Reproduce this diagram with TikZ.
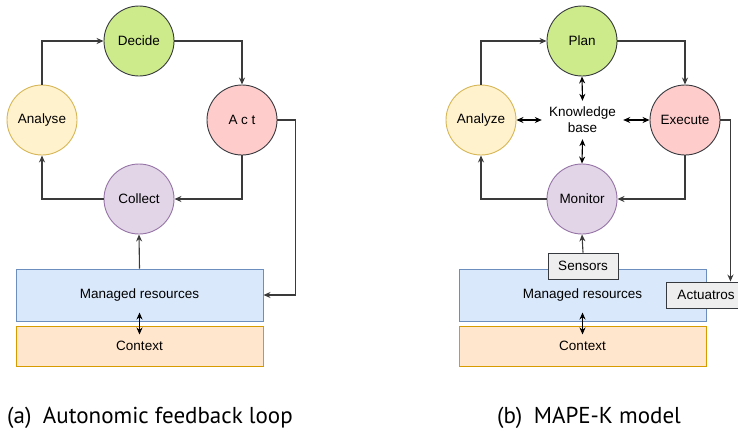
\documentclass[tikz,border=0pt]{standalone}
\usepackage{fontspec}
\setmainfont{Liberation Sans}
\newfontfamily\capfont{PT Sans}
\usepackage{tikz}
\usetikzlibrary{arrows.meta, positioning}
\definecolor{greenfill}{HTML}{CDEB8B}
\definecolor{yellowfill}{HTML}{FFF2CC}
\definecolor{yellowline}{HTML}{D6B656}
\definecolor{redfill}{HTML}{FFCCCC}
\definecolor{purplefill}{HTML}{E1D5E7}
\definecolor{purpleline}{HTML}{9673A6}
\definecolor{bluefill}{HTML}{DAE8FC}
\definecolor{blueline}{HTML}{6C8EBF}
\definecolor{orangefill}{HTML}{FFE6CC}
\definecolor{orangeline}{HTML}{D79B00}
\definecolor{grayfill}{HTML}{EEEEEE}
\definecolor{darkline}{HTML}{36393D}
\definecolor{edgegray}{HTML}{3A3A3A}
\tikzset{
  stage/.style={
    circle, minimum size=70pt, inner sep=0pt,
    draw, line width=0.9pt, font=\fontsize{13.5}{16}\selectfont
  },
  grnc/.style={stage, fill=greenfill,  draw=darkline},
  ylwc/.style={stage, fill=yellowfill, draw=yellowline},
  redc/.style={stage, fill=redfill,    draw=darkline},
  prpc/.style={stage, fill=purplefill, draw=purpleline},
  layer/.style={
    rectangle, minimum width=247pt, inner sep=0pt,
    draw, line width=1pt, font=\fontsize{13.5}{16}\selectfont
  },
  res/.style={layer, minimum height=52pt, fill=bluefill,   draw=blueline},
  ctx/.style={layer, minimum height=40pt, fill=orangefill, draw=orangeline},
  tag/.style={
    rectangle, minimum height=26pt, inner sep=0pt, fill=grayfill,
    draw=darkline, line width=0.9pt, font=\fontsize{13.5}{16}\selectfont
  },
  arr/.style={-{Stealth[length=7pt, width=6pt]}, line width=1.1pt, draw=edgegray},
  darr/.style={{Stealth[length=7pt, width=6pt]}-{Stealth[length=7pt, width=6pt]},
    line width=1.1pt, draw=black},
  subcap/.style={font=\capfont\fontsize{23}{27}\selectfont, anchor=base west, inner sep=0pt}
}
\begin{document}
\begin{tikzpicture}[x=1pt, y=-1pt]
  \useasboundingbox (0,0) rectangle (738,431);
  \clip (0,0) rectangle (738,431);

  %% -- (a) autonomic feedback loop ----------------------------
  \node[grnc] (decide)  at (139,41)  {Decide};
  \node[ylwc] (analyse) at (42,120)  {Analyse};
  \node[redc] (act)     at (242,120) {A c t};
  \node[prpc] (collect) at (139,199) {Collect};
  \node[res]  (mra)     at (139.5,295) {Managed resources};
  \node[ctx]  (ctxa)    at (139.5,346) {Context};

  \draw[arr] (analyse.north) |- (decide.west);
  \draw[arr] (decide.east)   -| (act.north);
  \draw[arr] (act.south)     |- (collect.east);
  \draw[arr] (collect.west)  -| (analyse.south);
  \draw[arr] (mra.north)     -- (collect.south);
  \draw[arr] (act.east) -- ++(18,0) |- (mra.east);
  \draw[darr] ([yshift=9pt]mra.south) -- ([yshift=-9pt]ctxa.north);

  %% -- (b) MAPE-K model ---------------------------------------
  \node[grnc] (plan)    at (582,41)  {Plan};
  \node[ylwc] (analyze) at (481,120) {Analyze};
  \node[redc] (execute) at (685,120) {Execute};
  \node[prpc] (monitor) at (582,199) {Monitor};
  \node[minimum width=81pt, minimum height=38pt, inner sep=0pt, align=center,
        font=\fontsize{13.5}{16}\selectfont] (kb) at (582.5,120) {Knowledge\\base};
  \node[res]  (mrb)     at (582.5,295) {Managed resources};
  \node[ctx]  (ctxb)    at (582.5,346) {Context};
  \node[tag, minimum width=70pt] (sens) at (583,266) {Sensors};
  \node[tag, minimum width=80pt] (actu) at (706,295) {Actuatros};

  \draw[arr] (analyze.north) |- (plan.west);
  \draw[arr] (plan.east)     -| (execute.north);
  \draw[arr] (execute.south) |- (monitor.east);
  \draw[arr] (monitor.west)  -| (analyze.south);
  \draw[arr] (sens.north)    -- (monitor.south);
  \draw[arr] (execute.east) -- ++(10,0) coordinate (turn) -- (turn |- actu.north);
  \draw[darr] (plan.south)    -- (kb.north);
  \draw[darr] (kb.south)      -- (monitor.north);
  \draw[darr] (analyze.east)  -- (kb.west);
  \draw[darr] (kb.east)       -- (execute.west);
  \draw[darr] ([yshift=9pt]mrb.south) -- ([yshift=-9pt]ctxb.north);

  %% -- captions -----------------------------------------------
  \node[subcap] (capa) at (7,423)   {(a)\enspace Autonomic feedback loop};
  \node[subcap] (capb) at (497,423) {(b)\enspace MAPE-K model};
\end{tikzpicture}
\end{document}
